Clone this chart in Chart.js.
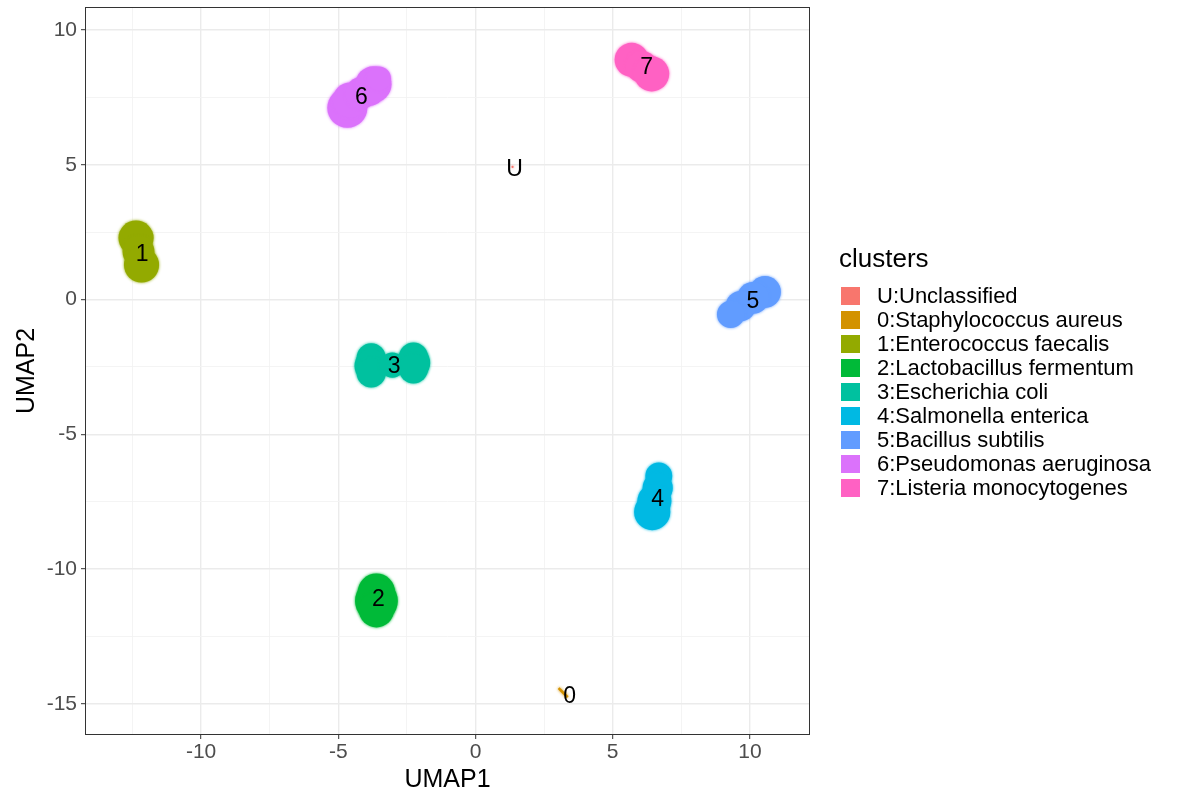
<!DOCTYPE html>
<html>
<head>
<meta charset="utf-8">
<script src="https://cdn.jsdelivr.net/npm/chart.js@4.4.1/dist/chart.umd.min.js"></script>
<style>
  html, body { margin: 0; padding: 0; background: #ffffff; }
  #wrap { width: 1178px; height: 798px; }
</style>
</head>
<body>
<div id="wrap"><canvas id="umap" width="1178" height="798"></canvas></div>
<script>
// ---- data -------------------------------------------------------------
const clusterNames = [
  'U:Unclassified',
  '0:Staphylococcus aureus',
  '1:Enterococcus faecalis',
  '2:Lactobacillus fermentum',
  '3:Escherichia coli',
  '4:Salmonella enterica',
  '5:Bacillus subtilis',
  '6:Pseudomonas aeruginosa',
  '7:Listeria monocytogenes'
];
const clusterTags = ['U', '0', '1', '2', '3', '4', '5', '6', '7'];

// point-cloud cores per cluster: [UMAP1, UMAP2, spread in UMAP units]
const cloudU = [[1.35, 4.92, 0.04]];
const cloud0 = [[3.03, -14.41, 0], [3.36, -14.75, 0]];
const cloud1 = [[-12.37, 2.28, 0.64], [-12.28, 1.77, 0.58], [-12.17, 1.28, 0.64]];
const cloud2 = [[-3.61, -10.85, 0.68], [-3.61, -11.18, 0.78], [-3.61, -11.51, 0.64]];
const cloud3 = [[-3.80, -2.16, 0.53], [-3.80, -2.46, 0.61], [-3.80, -2.72, 0.53],
                [-3.03, -2.43, 0.46],
                [-2.26, -2.13, 0.53], [-2.26, -2.35, 0.61], [-2.26, -2.57, 0.53]];
const cloud4 = [[6.68, -6.54, 0.49], [6.64, -6.99, 0.55], [6.52, -7.47, 0.62], [6.44, -7.88, 0.66]];
const cloud5 = [[10.55, 0.28, 0.58], [10.11, 0.06, 0.58], [9.67, -0.24, 0.55], [9.30, -0.55, 0.50]];
const cloud6 = [[-4.67, 7.11, 0.73], [-4.56, 7.40, 0.64], [-4.16, 7.66, 0.58],
                [-3.85, 7.75, 0.55], [-3.72, 7.98, 0.66], [-3.52, 8.20, 0.44]];
const cloud7 = [[5.69, 8.89, 0.62], [6.06, 8.63, 0.58], [6.42, 8.37, 0.64]];
const clouds = [cloudU, cloud0, cloud1, cloud2, cloud3, cloud4, cloud5, cloud6, cloud7];

// cluster tag positions
const labelUMAP1 = [1.42, 3.43, -12.15, -3.54, -2.96, 6.64, 10.11, -4.16, 6.24];
const labelUMAP2 = [4.80, -14.74, 1.65, -11.14, -2.50, -7.43, -0.09, 7.47, 8.59];

// axis breaks (multiples of 5 are labelled, the rest are minor grid lines)
const xBreaks = [-12.5, -10, -7.5, -5, -2.5, 0, 2.5, 5, 7.5, 10];
const yBreaks = [-15, -12.5, -10, -7.5, -5, -2.5, 0, 2.5, 5, 7.5, 10];
const xRange = [-14.23, 12.19];
const yRange = [-16.15, 10.85];

// ---- styles -----------------------------------------------------------
const palette = ['#F8766D', '#D39200', '#93AA00', '#00BA38', '#00C19F',
                 '#00B9E3', '#619CFF', '#DB72FB', '#FF61C3'];
const FONT = '"Liberation Sans", Arial, Helvetica, sans-serif';

const isMajor = v => Math.abs(v % 5) < 1e-9;

const datasets = clouds.map((cloud, i) => ({
  label: clusterNames[i],
  data: cloud.map(p => ({ x: p[0], y: p[1], s: p[2] })),
  backgroundColor: palette[i],
  borderColor: palette[i],
  borderWidth: i === 1 ? 2.5 : 0,
  showLine: i === 1,
  pointBorderWidth: 0,
  pointRadius: ctx => {
    const raw = ctx.raw;
    if (!raw || !raw.s) return 0;
    const sx = ctx.chart.scales.x;
    return Math.max(1, Math.abs(sx.getPixelForValue(raw.x + raw.s) - sx.getPixelForValue(raw.x)));
  }
}));

// soft speckled rim around every cloud
const cloudHaze = {
  id: 'cloudHaze',
  beforeDatasetDraw(chart, args) {
    const ctx = chart.ctx;
    ctx.save();
    ctx.shadowColor = palette[args.index];
    ctx.shadowBlur = 3;
  },
  afterDatasetDraw(chart) {
    chart.ctx.restore();
  }
};

// panel border and cluster tags
const panelExtras = {
  id: 'panelExtras',
  afterDatasetsDraw(chart) {
    const { ctx, chartArea: a, scales } = chart;
    ctx.save();
    ctx.fillStyle = '#000000';
    ctx.font = '23px ' + FONT;
    ctx.textAlign = 'center';
    ctx.textBaseline = 'middle';
    clusterTags.forEach((t, i) => {
      ctx.fillText(t, scales.x.getPixelForValue(labelUMAP1[i]), scales.y.getPixelForValue(labelUMAP2[i]));
    });
    ctx.strokeStyle = '#333333';
    ctx.lineWidth = 1;
    ctx.strokeRect(a.left + 0.5, a.top + 0.5, a.right - a.left - 1, a.bottom - a.top - 1);
    ctx.restore();
  }
};

// legend on the right
const clusterLegend = {
  id: 'clusterLegend',
  afterDraw(chart) {
    const ctx = chart.ctx;
    const a = chart.chartArea;
    const x0 = a.right + 30;
    ctx.save();
    ctx.fillStyle = '#000000';
    ctx.textAlign = 'left';
    ctx.textBaseline = 'middle';
    ctx.font = '26px ' + FONT;
    ctx.fillText('clusters', x0 - 1, 260);
    ctx.font = '22px ' + FONT;
    clusterNames.forEach((name, i) => {
      const cy = 296 + i * 24;
      ctx.fillStyle = palette[i];
      ctx.fillRect(x0 + 1, cy - 9, 19, 18);
      ctx.fillStyle = '#000000';
      ctx.fillText(name, x0 + 37, cy + 1);
    });
    ctx.restore();
  }
};

const axisCommon = (title, breaks, titlePad) => ({
  type: 'linear',
  afterBuildTicks: s => { s.ticks = breaks.map(v => ({ value: v })); },
  border: { display: false },
  grid: {
    color: c => (c.tick && isMajor(c.tick.value)) ? '#ebebeb' : '#f3f3f3',
    lineWidth: c => (c.tick && isMajor(c.tick.value)) ? 1.4 : 0.9,
    drawTicks: true,
    tickLength: 4,
    tickWidth: 1,
    tickColor: c => (c.tick && isMajor(c.tick.value)) ? '#333333' : 'rgba(0,0,0,0)'
  },
  ticks: {
    autoSkip: false,
    maxRotation: 0,
    minRotation: 0,
    color: '#4d4d4d',
    font: { family: FONT, size: 21 },
    callback: v => isMajor(v) ? String(v) : ''
  },
  title: {
    display: true,
    text: title,
    color: '#000000',
    font: { family: FONT, size: 25 },
    padding: titlePad
  }
});

const xAxis = axisCommon('UMAP1', xBreaks, { top: 0, bottom: 3 });
xAxis.min = xRange[0];
xAxis.max = xRange[1];
xAxis.ticks.padding = 1;
xAxis.afterFit = s => { s.height = 63; s.paddingLeft = 0; s.paddingRight = 0; };

const yAxis = axisCommon('UMAP2', yBreaks, { top: 12, bottom: 0 });
yAxis.min = yRange[0];
yAxis.max = yRange[1];
yAxis.ticks.padding = 4;
yAxis.afterFit = s => { s.width = 85; s.paddingTop = 0; s.paddingBottom = 0; };

new Chart(document.getElementById('umap'), {
  type: 'scatter',
  data: { datasets },
  options: {
    responsive: false,
    animation: false,
    events: [],
    layout: { padding: { left: 0, top: 7, right: 368, bottom: 0 } },
    plugins: { legend: { display: false }, tooltip: { enabled: false } },
    scales: { x: xAxis, y: yAxis }
  },
  plugins: [cloudHaze, panelExtras, clusterLegend]
});
</script>
</body>
</html>
